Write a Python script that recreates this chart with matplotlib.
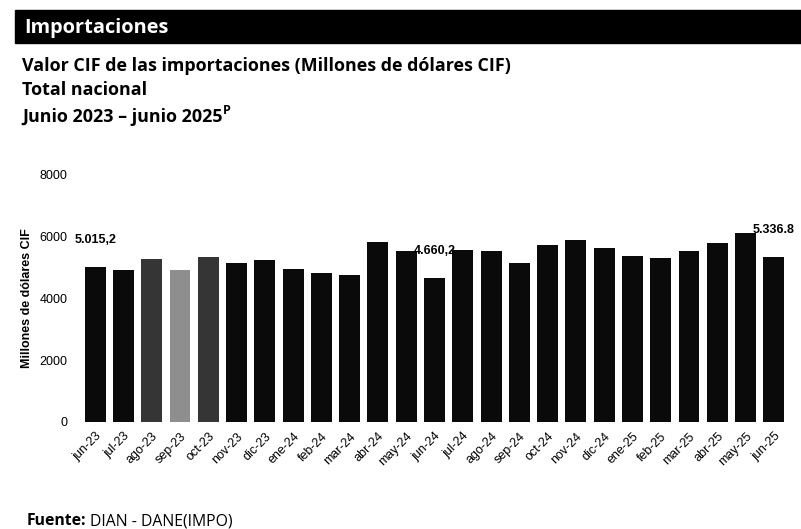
import matplotlib
matplotlib.use('Agg')
import matplotlib.pyplot as plt
from matplotlib.patches import Rectangle

plt.rc('font', family='Liberation Sans')

meses = ['jun-23', 'jul-23', 'ago-23', 'sep-23', 'oct-23', 'nov-23', 'dic-23',
         'ene-24', 'feb-24', 'mar-24', 'abr-24', 'may-24', 'jun-24', 'jul-24',
         'ago-24', 'sep-24', 'oct-24', 'nov-24', 'dic-24', 'ene-25', 'feb-25',
         'mar-25', 'abr-25', 'may-25', 'jun-25']
valores = [5015.2, 4930, 5280, 4920, 5355, 5150, 5235,
           4945, 4815, 4750, 5830, 5525, 4660.2, 5580,
           5525, 5160, 5720, 5885, 5645, 5375, 5320,
           5550, 5790, 6120, 5336.8]
# etiquetas que se muestran sobre algunas barras
etiquetas = {'jun-23': '5.015,2', 'jun-24': '4.660,2', 'jun-25': '5.336.8'}
yticks = [0, 2000, 4000, 6000, 8000]

W, H = 801, 529
fig = plt.figure(figsize=(W / 100, H / 100), dpi=100)

def fx(px):
    return px / W

def fy(py):
    return 1 - py / H

# barra negra del encabezado
fig.patches.append(Rectangle((fx(15), fy(43)), fx(W - 15), (43 - 10) / H,
                             transform=fig.transFigure, color='black', zorder=0))
fig.text(fx(24), fy(28), 'Importaciones', color='white', fontsize=14.4,
         fontweight='bold', family='Open Sans', va='center', ha='left')

fig.text(fx(22), fy(66), 'Valor CIF de las importaciones (Millones de dólares CIF)',
         fontsize=12.9, fontweight='bold', family='Open Sans', va='center')
fig.text(fx(22), fy(90), 'Total nacional', fontsize=12.9, fontweight='bold',
         family='Open Sans', va='center')
t = fig.text(fx(22), fy(117), 'Junio 2023 – junio 2025', fontsize=12.9,
             fontweight='bold', family='Open Sans', va='center')

ax = fig.add_axes([fx(81), fy(422), fx(788 - 81), (422 - 175) / H])
colores = ['#0a0a0a'] * len(meses)
colores[meses.index('ago-23')] = '#353535'
colores[meses.index('oct-23')] = '#353535'
colores[meses.index('sep-23')] = '#8e8e8e'
x = list(range(len(meses)))
ax.bar(x, valores, width=0.74, color=colores)

for m, txt in etiquetas.items():
    i = meses.index(m)
    ax.annotate(txt, (i, valores[i]), xytext=(0, 19.5), textcoords='offset points',
                ha='center', va='center', fontsize=9, fontweight='bold',
                annotation_clip=False)

ax.set_xlim(-0.5, len(meses) - 0.5)
ax.set_ylim(0, 8000)
ax.set_yticks(yticks)
ax.set_yticklabels([str(v) for v in yticks], fontsize=9)
ax.set_xticks(x)
ax.set_xticklabels(meses, rotation=45, ha='right', rotation_mode='anchor', fontsize=9)
ax.tick_params(axis='y', length=0, pad=9.5)
ax.tick_params(axis='x', length=0, pad=6)
for s in ax.spines.values():
    s.set_visible(False)
ax.set_ylabel('Millones de dólares CIF', fontsize=9, fontweight='bold')
ax.yaxis.set_label_coords((33 - 81) / (788 - 81), 0.5)

fig.canvas.draw()
r = fig.canvas.get_renderer()
bb = t.get_window_extent(r)
fig.text(bb.x1 / W + 0.001, fy(110), 'P', fontsize=9, fontweight='bold',
         family='Open Sans', va='center')

ft = fig.text(fx(27), fy(521), 'Fuente:', fontsize=11.3, fontweight='bold',
              family='Open Sans', va='center')
fig.canvas.draw()
bb2 = ft.get_window_extent(r)
fig.text(bb2.x1 / W + 0.004, fy(521), 'DIAN - DANE(IMPO)', fontsize=11.3,
         family='Open Sans', va='center')

fig.savefig('out.png', dpi=100)
